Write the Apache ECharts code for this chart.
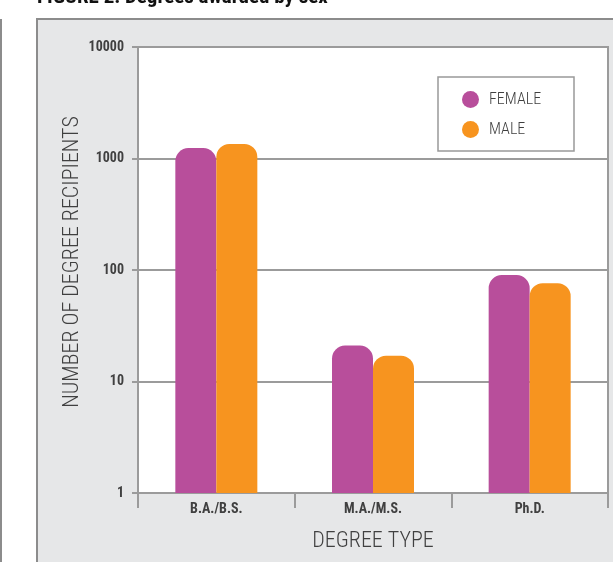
<!DOCTYPE html>
<html>
<head>
<meta charset="utf-8">
<style>
  html, body { margin: 0; padding: 0; background: #ffffff; }
  #chart { width: 613px; height: 562px; }
</style>
<script src="https://cdn.jsdelivr.net/npm/echarts@6/dist/echarts.min.js"></script>
</head>
<body>
<div id="chart"></div>
<script>
// Degree types along the x axis
const categories = ['B.A./B.S.', 'M.A./M.S.', 'Ph.D.'];
// Number of degree recipients per sex
const female = [1240, 21, 90];
const male = [1350, 17, 76];
// Log-scale tick labels on the y axis
const yTicks = [1, 10, 100, 1000, 10000];

const FONT = '"Roboto Condensed", "DejaVu Sans Condensed", sans-serif';
const AXIS_GREY = '#9b9b9b';
const TEXT_GREY = '#404040';
const FEMALE_COLOR = '#b84e9b';
const MALE_COLOR = '#f7941f';

const chart = echarts.init(document.getElementById('chart'), null, { renderer: 'canvas' });

chart.setOption({
  animation: false,
  backgroundColor: '#ffffff',
  textStyle: { fontFamily: FONT },
  graphic: [
    // grey panel behind the plot
    {
      type: 'rect', z: -10, silent: true,
      shape: { x: 37, y: 19, width: 700, height: 700 },
      style: { fill: '#e6e7e8', stroke: '#8c8c8c', lineWidth: 2 }
    },
    // rule at the far left
    {
      type: 'line', z: -10, silent: true,
      shape: { x1: 1, y1: 19, x2: 1, y2: 562 },
      style: { stroke: '#8c8c8c', lineWidth: 2 }
    },
    // figure heading
    {
      type: 'text', z: 5, silent: true,
      x: 37, y: -13,
      style: {
        text: 'FIGURE 2: Degrees awarded by sex',
        fontFamily: FONT, fontSize: 21, fontWeight: 'bold', fill: '#111111',
        verticalAlign: 'top'
      }
    },
    // y axis title
    {
      type: 'text', z: 5, silent: true,
      x: 72, y: 262, rotation: Math.PI / 2,
      style: {
        text: 'NUMBER OF DEGREE RECIPIENTS',
        fontFamily: FONT, fontSize: 22, fontWeight: 300, fill: TEXT_GREY,
        align: 'center', verticalAlign: 'middle'
      }
    },
    // legend box
    {
      type: 'rect', z: 5, silent: true,
      shape: { x: 438, y: 77, width: 136, height: 74 },
      style: { fill: '#ffffff', stroke: '#999999', lineWidth: 1.5 }
    }
  ],
  legend: {
    orient: 'vertical',
    left: 462, top: 91,
    padding: 0,
    z: 10,
    itemWidth: 17, itemHeight: 17, itemGap: 13,
    icon: 'circle',
    textStyle: { fontFamily: FONT, fontSize: 16, fontWeight: 300, color: TEXT_GREY, padding: [0, 0, 0, 5] },
    data: [
      { name: 'FEMALE', itemStyle: { color: FEMALE_COLOR } },
      { name: 'MALE', itemStyle: { color: MALE_COLOR } }
    ]
  },
  grid: {
    left: 138, right: 5, top: 47, bottom: 69,
    show: true, backgroundColor: '#ffffff',
    borderColor: AXIS_GREY, borderWidth: 2
  },
  xAxis: {
    type: 'category',
    data: categories,
    name: 'DEGREE TYPE',
    nameLocation: 'middle',
    nameGap: 37,
    nameTextStyle: { fontFamily: FONT, fontSize: 22, fontWeight: 300, color: TEXT_GREY },
    axisLine: { lineStyle: { color: AXIS_GREY, width: 2 } },
    axisTick: { show: true, length: 15, lineStyle: { color: AXIS_GREY, width: 2 } },
    axisLabel: {
      margin: 9, fontFamily: FONT, fontSize: 14, fontWeight: 'bold', color: TEXT_GREY
    },
    splitLine: { show: false }
  },
  yAxis: {
    type: 'log',
    logBase: 10,
    min: yTicks[0],
    max: yTicks[yTicks.length - 1],
    axisLine: { show: true, lineStyle: { color: AXIS_GREY, width: 2 } },
    axisTick: { show: true, length: 6, lineStyle: { color: AXIS_GREY, width: 2 } },
    axisLabel: {
      margin: 14, fontFamily: FONT, fontSize: 14, fontWeight: 'bold', color: TEXT_GREY,
      formatter: v => String(Math.round(v))
    },
    splitLine: { show: true, lineStyle: { color: AXIS_GREY, width: 2 } }
  },
  series: [
    {
      name: 'FEMALE', type: 'bar', data: female,
      barWidth: 41, barGap: '0%',
      itemStyle: { color: FEMALE_COLOR, borderRadius: [13, 13, 0, 0] }
    },
    {
      name: 'MALE', type: 'bar', data: male,
      barWidth: 41, barGap: '0%',
      itemStyle: { color: MALE_COLOR, borderRadius: [13, 13, 0, 0] }
    }
  ]
});
</script>
</body>
</html>
